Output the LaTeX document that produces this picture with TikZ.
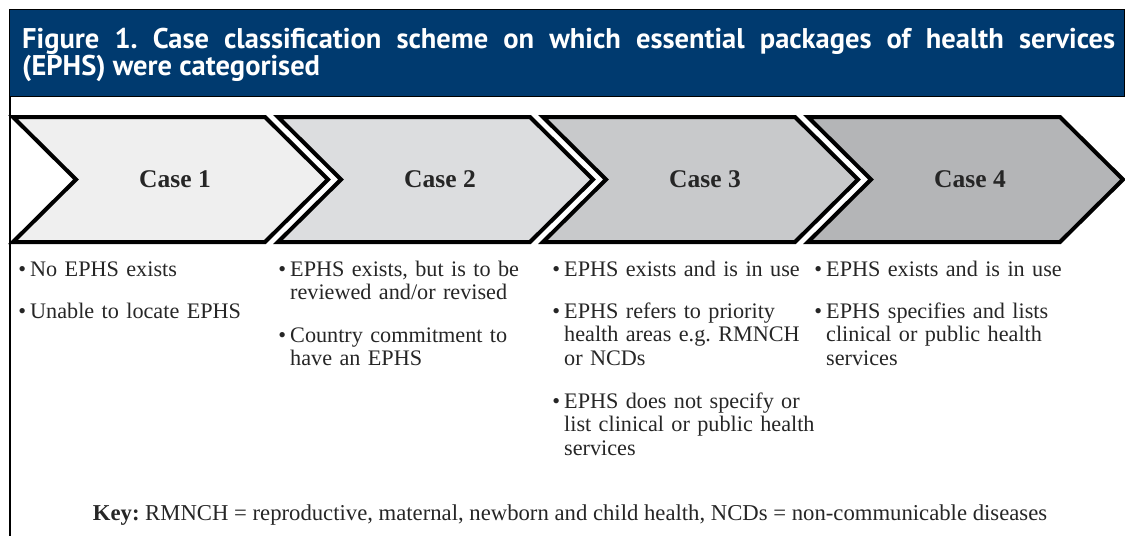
\documentclass[tikz,border=0pt]{standalone}
\usepackage{fontspec}
\setmainfont{Liberation Serif}
\newfontfamily\headfont{PT Sans}
\usepackage{tikz}
\definecolor{headblue}{HTML}{003A6F}
\definecolor{caseA}{HTML}{EFEFEF}
\definecolor{caseB}{HTML}{DCDDDF}
\definecolor{caseC}{HTML}{C8C9CB}
\definecolor{caseD}{HTML}{B4B5B7}
\tikzset{
  chevron/.style={
    draw=black,
    line width=4pt
  },
  caselabel/.style={
    font=\fontsize{25.5}{30}\selectfont\bfseries,
    text=black!85
  },
  titletext/.style={
    anchor=base west,
    inner sep=0pt,
    text=white,
    font=\headfont\bfseries\fontsize{28.5}{30}\selectfont
  },
  bullet/.style={
    anchor=base west,
    inner sep=0pt,
    text width=265pt,
    align=left,
    text=black!85,
    font=\fontsize{22.2}{23.5}\selectfont
  }
}
\newcommand{\dotit}{\llap{\textbullet\hspace{4pt}}}

\begin{document}
\frenchspacing
\begin{tikzpicture}[x=1pt,y=-1pt]
  \useasboundingbox (0,0) rectangle (1125,536);
  % header
  \draw[fill=headblue, line width=1pt] (9.5,9.5) rectangle (1124,96);
  \draw[line width=1.5pt] (10,96) -- (10,536);
  \node[titletext] (title1) at (22,48)
    {\makebox[1093pt][s]{Figure 1. Case classification scheme on which essential packages of health services}};
  \node[titletext] (title2) at (22,75) {(EPHS) were categorised};

  % the four cases
  \foreach \i/\n/\shade in {0/1/caseA, 1/2/caseB, 2/3/caseC, 3/4/caseD} {
    \draw[chevron, fill=\shade] ({13+265*\i},117) -- ++(252,0) -- ++(63,62.5)
      -- ++(-63,62.5) -- ++(-252,0) -- ++(63,-62.5) -- cycle;
    \node[caselabel] (case\n) at ({175+265*\i},179.5) {Case \n};
  }

  % case 1
  \node[bullet] (c1a) at (30,276) {\dotit No EPHS exists};
  \node[bullet] (c1b) at (30,318) {\dotit Unable to locate EPHS};
  % case 2
  \node[bullet] (c2a) at (290,276) {\dotit EPHS exists, but is to be\\ reviewed and/or revised};
  \node[bullet] (c2b) at (290,342) {\dotit Country commitment to\\ have an EPHS};
  % case 3
  \node[bullet] (c3a) at (564,276) {\dotit EPHS exists and is in use};
  \node[bullet] (c3b) at (564,318) {\dotit EPHS refers to priority\\ health areas e.g. RMNCH\\ or NCDs};
  \node[bullet] (c3c) at (564,408) {\dotit EPHS does not specify or\\ list clinical or public health\\ services};
  % case 4
  \node[bullet] (c4a) at (826,276) {\dotit EPHS exists and is in use};
  \node[bullet] (c4b) at (826,318) {\dotit EPHS specifies and lists\\ clinical or public health\\ services};

  \node[anchor=base, inner sep=0pt, text=black!85, font=\fontsize{22.7}{24}\selectfont] (key) at (570,520)
    {\textbf{Key:} RMNCH = reproductive, maternal, newborn and child health, NCDs = non-communicable diseases};
\end{tikzpicture}
\end{document}
